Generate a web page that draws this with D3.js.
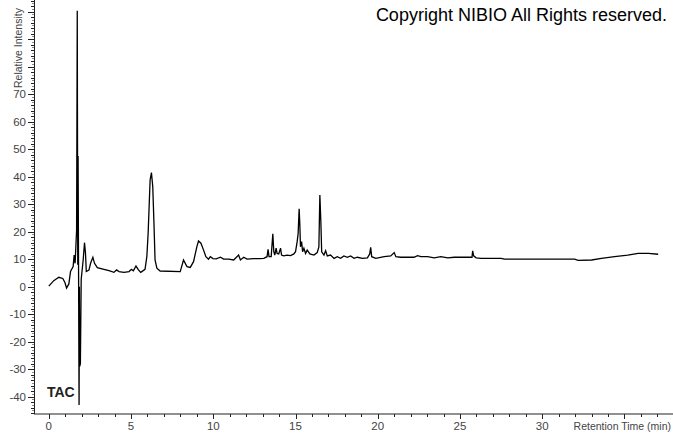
<!DOCTYPE html>
<html><head><meta charset="utf-8">
<script src="https://cdn.jsdelivr.net/npm/d3@7"></script>
<style>
html,body{margin:0;padding:0;background:#fff;overflow:hidden}
svg{display:block;font-family:"Liberation Sans",Arial,sans-serif}
</style></head><body>
<svg id="c" width="673" height="433"></svg>
<script>
const times = [0, 0.3, 0.61, 0.85, 0.98, 1.08, 1.22, 1.32, 1.48, 1.54, 1.60, 1.69, 1.73, 1.76, 1.78, 1.81, 1.84, 1.86, 1.88, 1.92, 1.97, 2.09, 2.17, 2.23, 2.28, 2.44, 2.54, 2.68, 2.78, 2.95, 3.35, 3.66, 3.96, 4.12, 4.27, 4.57, 4.88, 5.02, 5.14, 5.30, 5.45, 5.59, 5.85, 5.96, 6.04, 6.16, 6.24, 6.32, 6.40, 6.46, 6.57, 6.77, 7.99, 8.19, 8.40, 8.60, 8.80, 9.00, 9.10, 9.25, 9.41, 9.55, 9.71, 9.82, 9.98, 10.18, 10.43, 10.63, 10.93, 11.24, 11.54, 11.65, 11.85, 12.05, 12.46, 12.82, 13.07, 13.27, 13.33, 13.39, 13.52, 13.62, 13.68, 13.74, 13.82, 13.88, 13.98, 14.09, 14.15, 14.29, 14.49, 14.70, 14.90, 15.00, 15.10, 15.16, 15.22, 15.26, 15.30, 15.37, 15.43, 15.51, 15.61, 15.71, 15.87, 16.12, 16.32, 16.42, 16.48, 16.54, 16.59, 16.73, 16.83, 16.93, 17.13, 17.34, 17.54, 17.74, 17.94, 18.15, 18.35, 18.56, 18.76, 19.07, 19.37, 19.51, 19.57, 19.63, 19.88, 20.39, 20.79, 21.00, 21.10, 21.40, 22.20, 22.42, 22.62, 23.03, 23.43, 23.84, 24.25, 24.65, 25.06, 25.47, 25.73, 25.77, 25.83, 25.98, 26.28, 27.50, 27.70, 29.10, 31.16, 31.97, 32.18, 33.00, 33.60, 34.40, 35.20, 35.83, 36.45, 37.05];
const intensity = [0.2, 2.2, 3.4, 3.0, 1.5, -0.5, 1.0, 5.5, 7.3, 11.5, 8.5, 20.6, 100.3, 8, 47.5, 5, -43, 0, -29, -28, 2.7, 9.7, 16.0, 12.2, 5.5, 6.0, 8.5, 10.7, 8.5, 6.9, 6.3, 5.8, 5.2, 6.1, 5.5, 5.2, 5.5, 6.3, 5.8, 7.5, 6.1, 5.2, 6.3, 10.9, 19.5, 38.8, 41.5, 36.4, 21.8, 9.7, 6.7, 5.7, 5.5, 9.7, 7.3, 7.0, 9.1, 14.5, 16.6, 15.8, 13.3, 10.9, 10.0, 10.9, 10.2, 10.1, 10.7, 10.0, 10.0, 9.7, 11.5, 9.7, 10.7, 10.0, 10.2, 10.2, 10.3, 10.9, 13.6, 10.9, 10.9, 19.2, 12.7, 11.5, 14.0, 12.1, 11.9, 14.0, 11.5, 11.2, 11.5, 11.3, 11.9, 12.7, 16.4, 19.4, 28.3, 23.0, 14.5, 16.4, 12.7, 14.0, 12.1, 13.3, 11.9, 11.5, 12.4, 14.5, 33.3, 23.6, 12.7, 11.5, 13.1, 11.2, 11.5, 10.3, 10.9, 10.3, 11.2, 10.7, 11.2, 10.3, 10.7, 10.3, 10.5, 11.9, 14.3, 10.9, 10.3, 10.9, 11.2, 12.4, 10.9, 10.7, 10.7, 11.3, 10.9, 10.9, 10.5, 10.9, 10.5, 10.7, 10.7, 10.7, 10.7, 13.0, 11.2, 10.5, 10.3, 10.3, 10.0, 10.0, 10.0, 10.0, 9.6, 9.7, 10.3, 10.9, 11.5, 12.1, 12.1, 11.8];
const xTickLabels = [0, 5, 10, 15, 20, 25, 30];
const yTickLabels = [-40, -30, -20, -10, 0, 10, 20, 30, 40, 50, 60, 70];
const xTitle = "Retention Time (min)";
const yTitle = "Relative Intensity";
const traceName = "TAC";
const copyright = "Copyright NIBIO All Rights reserved.";

const svg = d3.select("#c");
const x = d3.scaleLinear().domain([-0.9, 37.95]).range([34, 673]);
const y = d3.scaleLinear().domain([-46.3, 104.25]).range([414, 0]);

const axisCol = "#222", labCol = "#444";

// x axis
const gx = svg.append("g");
gx.append("line").attr("x1", 34).attr("x2", 673).attr("y1", 414).attr("y2", 414).attr("stroke", axisCol);
const xMinor = d3.range(0, 38, 1);
gx.selectAll("line.t").data(xMinor).join("line").attr("class","t")
  .attr("x1", d => Math.round(x(d)) + 0.5).attr("x2", d => Math.round(x(d)) + 0.5)
  .attr("y1", 414).attr("y2", d => d % 5 === 0 ? 419 : 417).attr("stroke", axisCol);
gx.selectAll("text").data(xTickLabels).join("text")
  .attr("x", d => x(d)).attr("y", 430).attr("text-anchor", "middle")
  .attr("font-size", 11.5).attr("fill", labCol).text(d => d);
svg.append("text").attr("x", 671).attr("y", 430).attr("text-anchor", "end")
  .attr("font-size", 10.5).attr("fill", labCol).text(xTitle);

// y axis
const gy = svg.append("g");
gy.append("line").attr("x1", 34.5).attr("x2", 34.5).attr("y1", 0).attr("y2", 414).attr("stroke", axisCol);
const yMinor = d3.range(-46, 105, 1);
gy.selectAll("line.t").data(yMinor).join("line").attr("class","t")
  .attr("y1", d => Math.round(y(d)) + 0.5).attr("y2", d => Math.round(y(d)) + 0.5)
  .attr("x1", 34).attr("x2", d => d % 10 === 0 ? 28 : (d % 2 === 0 ? 31 : 32)).attr("stroke", d => d % 2 === 0 ? axisCol : "#888");
gy.selectAll("text").data(yTickLabels).join("text")
  .attr("x", 26).attr("y", d => y(d) + 4).attr("text-anchor", "end")
  .attr("font-size", 11.5).attr("fill", labCol).text(d => d);
svg.append("text").attr("transform", "translate(22,88) rotate(-90)")
  .attr("font-size", 10.5).attr("fill", labCol).text(yTitle);

// trace
const data = times.map((t, i) => [t, intensity[i]]);
svg.append("path").datum(data)
  .attr("d", d3.line().x(d => x(d[0])).y(d => y(d[1])))
  .attr("fill", "none").attr("stroke", "#000").attr("stroke-width", 1.3)
  .attr("stroke-linejoin", "miter");

svg.append("text").attr("x", 47).attr("y", 397).attr("font-size", 14)
  .attr("font-weight", "bold").attr("fill", "#222").text(traceName);
svg.append("text").attr("x", 667).attr("y", 21).attr("text-anchor", "end")
  .attr("font-size", 18).attr("fill", "#000").text(copyright);
</script></body></html>
